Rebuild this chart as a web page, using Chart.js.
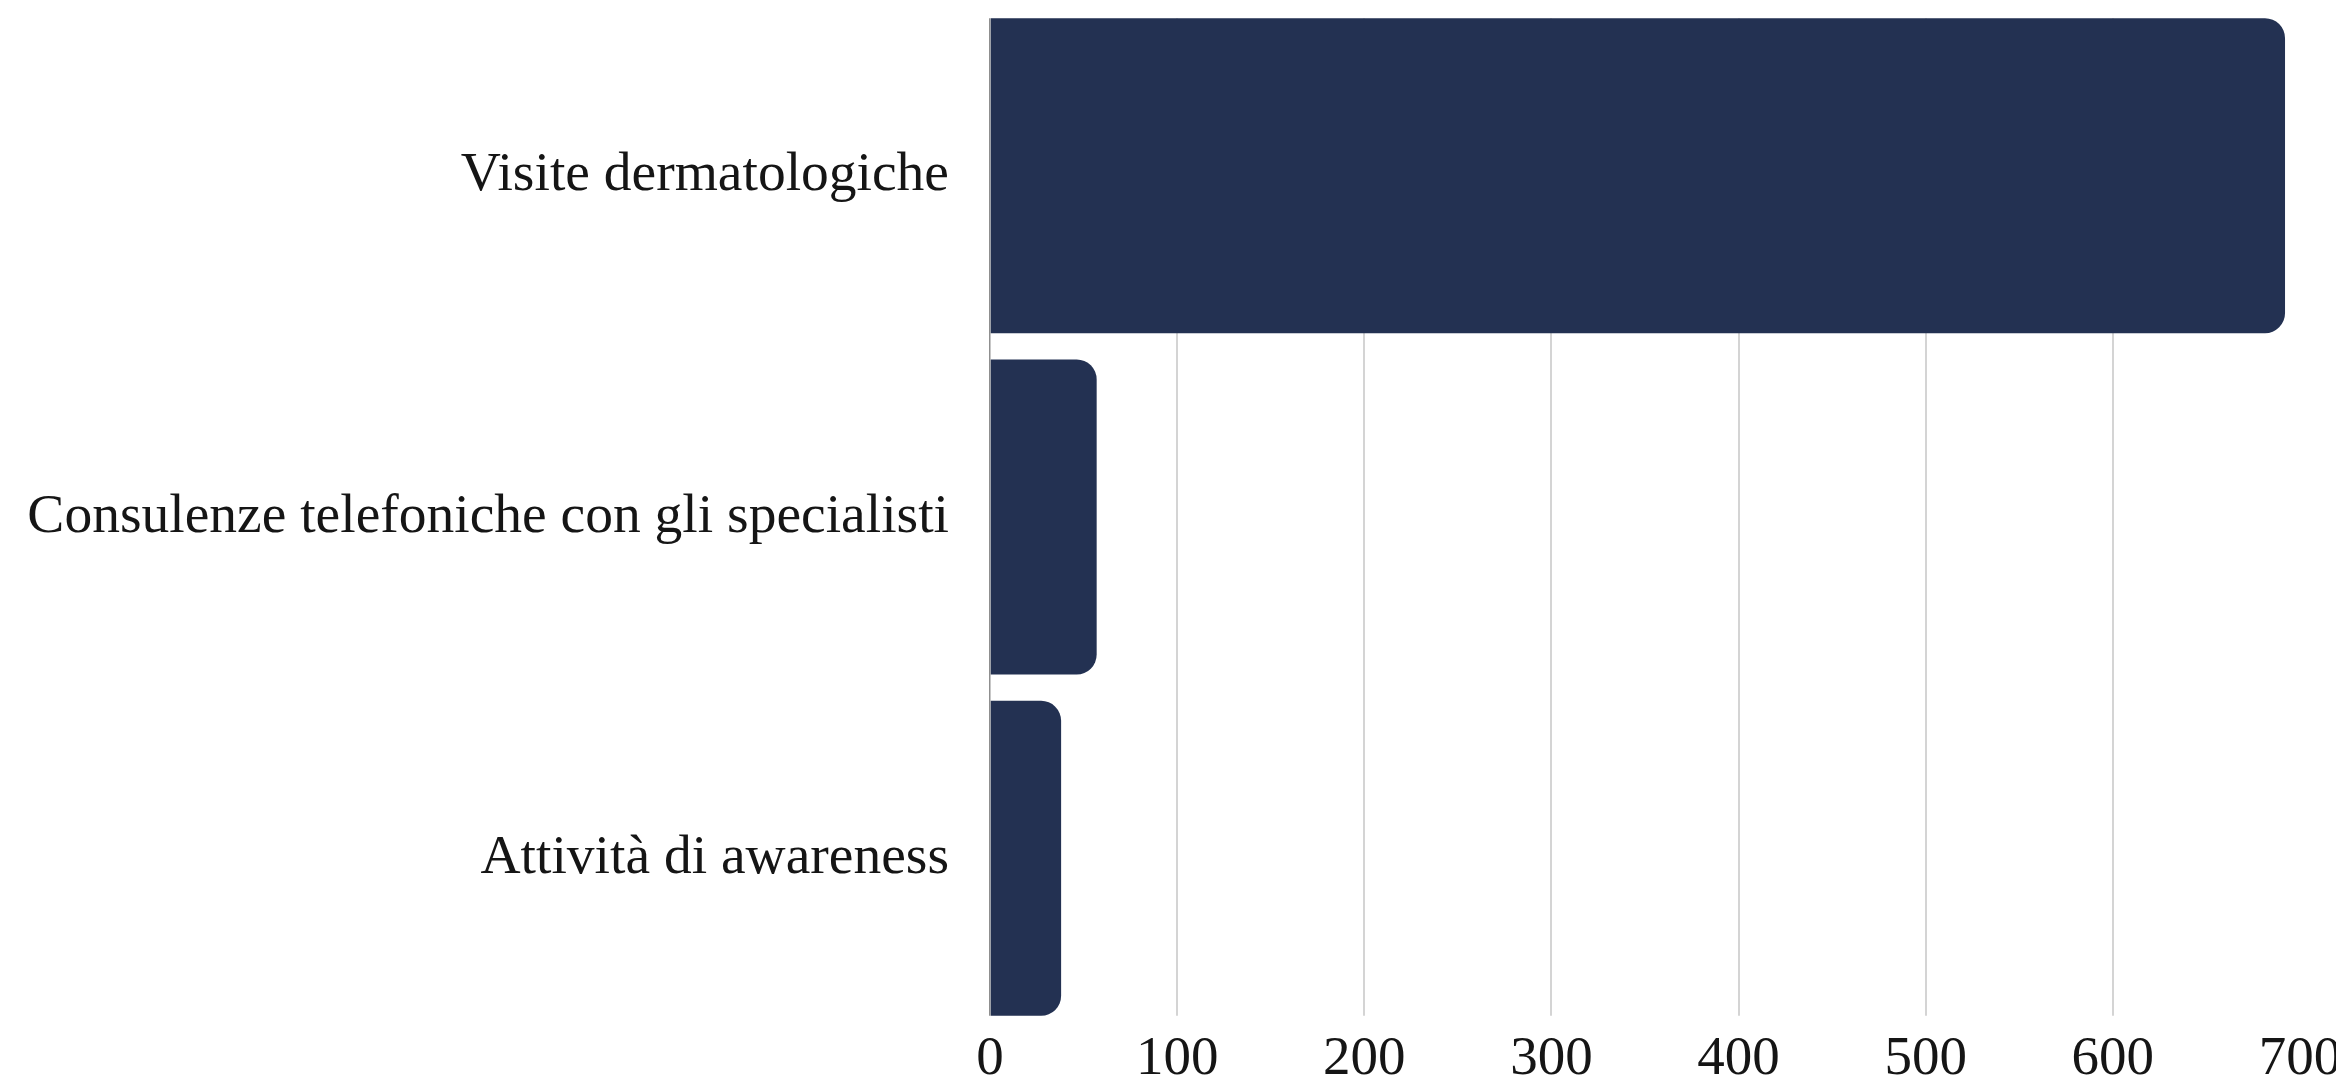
<!DOCTYPE html>
<html>
<head>
<meta charset="utf-8">
<script src="https://cdn.jsdelivr.net/npm/chart.js@4/dist/chart.umd.min.js"></script>
<style>
  html, body { margin: 0; padding: 0; background: #ffffff; overflow: hidden; }
  #wrap { position: relative; width: 2336px; height: 1083px; }
</style>
</head>
<body>
<div id="wrap"><canvas id="c"></canvas></div>
<script>
const categories = ['Visite dermatologiche', 'Consulenze telefoniche con gli specialisti', 'Attività di awareness'];
const values = [692, 57, 38];
const axisMin = 0;
const axisMax = 700;
const axisStep = 100;

const gridClip = {
  id: 'gridClip',
  beforeDraw(chart) {
    const meta = chart.getDatasetMeta(0);
    const first = meta.data[0], last = meta.data[meta.data.length - 1];
    const top = first.y - first.height / 2;
    const bottom = last.y + last.height / 2;
    const ctx = chart.ctx;
    ctx.save();
    ctx.beginPath();
    ctx.rect(0, top, chart.width, bottom - top);
    ctx.clip();
  },
  beforeDatasetsDraw(chart) {
    chart.ctx.restore();
  }
};

const yFont = { family: '"Liberation Serif", serif', size: 55.5, lineHeight: 1.1 };
const xFont = { family: '"Liberation Serif", serif', size: 55, lineHeight: 1.1 };

new Chart(document.getElementById('c'), {
  type: 'bar',
  data: {
    labels: categories,
    datasets: [{
      data: values,
      backgroundColor: '#233152',
      borderRadius: 20,
      borderSkipped: 'start',
      categoryPercentage: 1,
      barPercentage: 0.923
    }]
  },
  plugins: [gridClip],
  options: {
    indexAxis: 'y',
    responsive: true,
    maintainAspectRatio: false,
    animation: false,
    layout: { padding: { top: 5, right: 36, bottom: 0, left: 0 } },
    plugins: { legend: { display: false }, tooltip: { enabled: false } },
    scales: {
      x: {
        min: axisMin,
        max: axisMax,
        ticks: { stepSize: axisStep, color: '#151515', font: xFont, padding: 0, maxRotation: 0, z: 1 },
        grid: {
          drawTicks: false,
          lineWidth: (ctx) => (ctx.tick && ctx.tick.value === axisMin ? 1.5 : 2),
          color: (ctx) => {
            if (!ctx.tick) return '#d4d4d4';
            if (ctx.tick.value === axisMin) return '#8f8f8f';
            if (ctx.tick.value === axisMax) return 'rgba(0,0,0,0)';
            return '#d4d4d4';
          }
        },
        border: { display: false },
        afterFit: (s) => { s.height = 54; s.paddingLeft = 0; s.paddingRight = 0; }
      },
      y: {
        ticks: { color: '#151515', font: yFont, padding: 41, z: 1 },
        grid: { display: false, drawTicks: false },
        border: { display: false },
        afterFit: (s) => { s.width = 990; s.paddingTop = 0; s.paddingBottom = 0; }
      }
    }
  }
});
</script>
</body>
</html>
